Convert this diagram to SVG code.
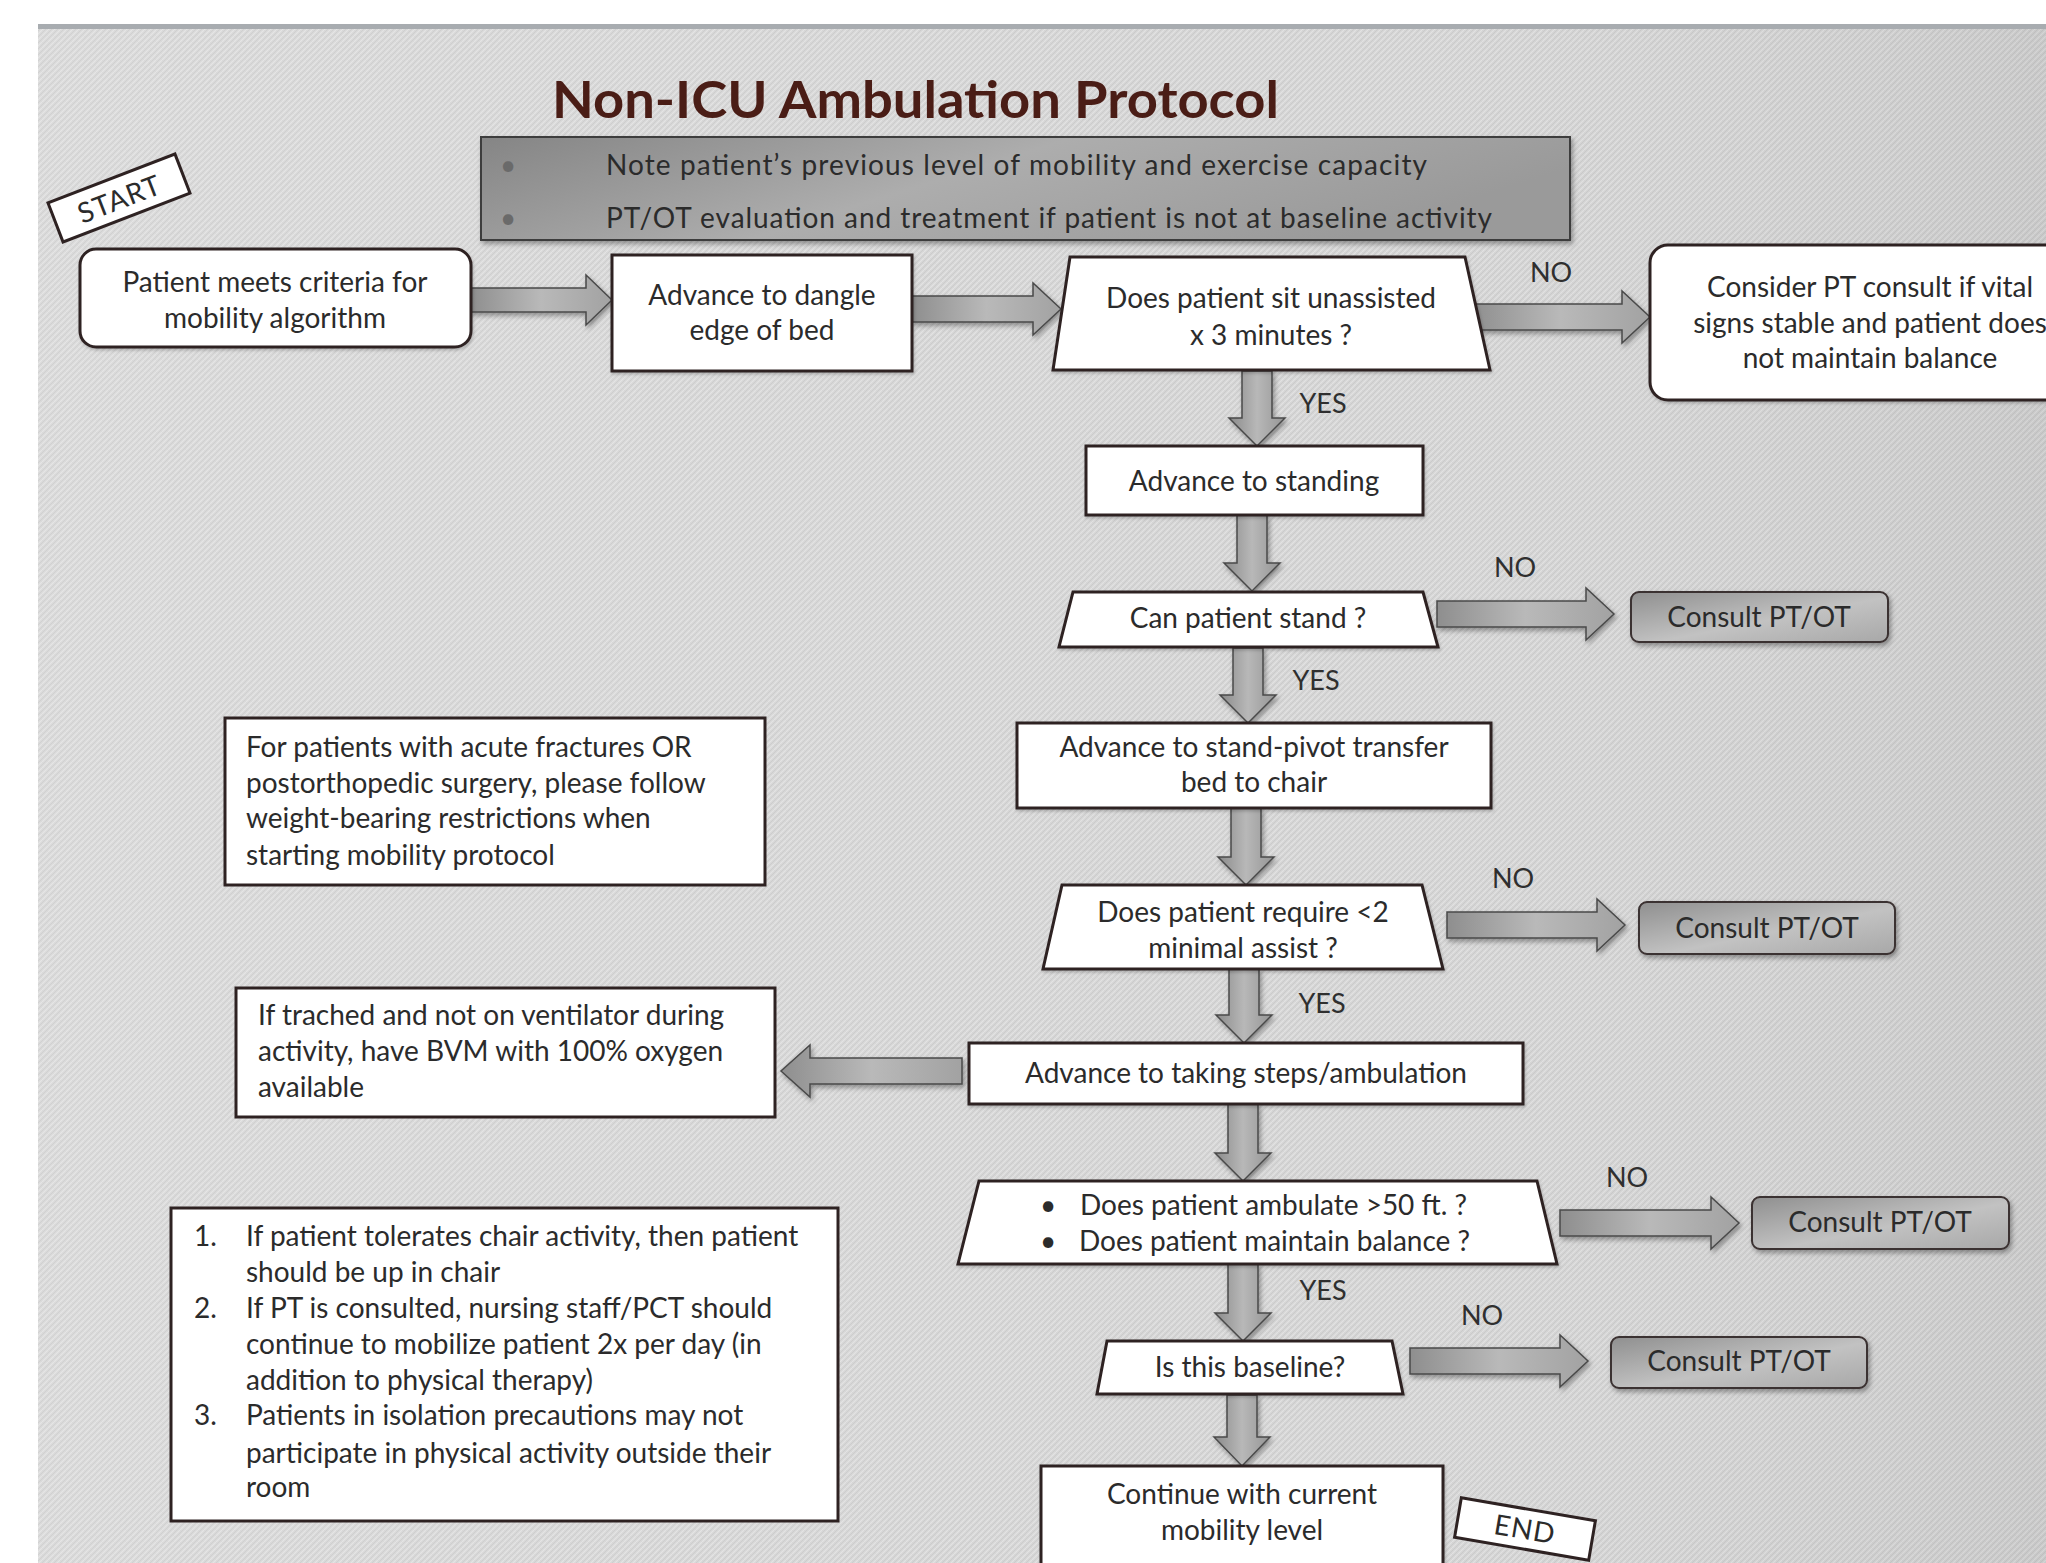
<svg xmlns="http://www.w3.org/2000/svg" width="2046" height="1563" viewBox="0 0 2046 1563">
<defs>
<pattern id="tex" width="6" height="6" patternUnits="userSpaceOnUse">
<rect width="6" height="6" fill="#d5d5d5"/>
<path d="M0 6 L6 0" stroke="#e3e3e3" stroke-width="1.1"/>
<path d="M0 3 L3 0 M3 6 L6 3" stroke="#c7c7c7" stroke-width="0.7"/>
</pattern>
<linearGradient id="shade" x1="0" y1="0" x2="1" y2="0">
<stop offset="0" stop-color="#ffffff" stop-opacity="0.12"/>
<stop offset="0.6" stop-color="#ffffff" stop-opacity="0"/>
<stop offset="1" stop-color="#000000" stop-opacity="0.06"/>
</linearGradient>
<linearGradient id="hArrow" x1="0" y1="0" x2="1" y2="0">
<stop offset="0" stop-color="#8e8e8e"/>
<stop offset="0.5" stop-color="#b9b9b9"/>
<stop offset="1" stop-color="#a2a2a2"/>
</linearGradient>
<linearGradient id="vArrow" x1="0" y1="0" x2="1" y2="0">
<stop offset="0" stop-color="#8a8a8a"/>
<stop offset="0.5" stop-color="#b8b8b8"/>
<stop offset="1" stop-color="#959595"/>
</linearGradient>
<linearGradient id="consult" x1="0" y1="0" x2="1" y2="1">
<stop offset="0" stop-color="#8f8f8f"/>
<stop offset="0.55" stop-color="#c2c2c2"/>
<stop offset="1" stop-color="#a8a8a8"/>
</linearGradient>
<linearGradient id="info" x1="0" y1="0" x2="1" y2="0.3">
<stop offset="0" stop-color="#858585"/>
<stop offset="0.5" stop-color="#adadad"/>
<stop offset="1" stop-color="#9a9a9a"/>
</linearGradient>
<filter id="sh" x="-10%" y="-20%" width="130%" height="150%">
<feDropShadow dx="2" dy="3" stdDeviation="2.5" flood-color="#000" flood-opacity="0.35"/>
</filter>
<filter id="shs" x="-10%" y="-20%" width="130%" height="150%">
<feDropShadow dx="1" dy="2" stdDeviation="1.5" flood-color="#000" flood-opacity="0.2"/>
</filter>
<style>
.t{font-family:Lato,"Open Sans","Liberation Sans",sans-serif;font-size:28px;fill:#2b2b2b}
.c{text-anchor:middle}
.lbl{font-family:Lato,"Open Sans","Liberation Sans",sans-serif;font-size:27px;fill:#2f2f2f;text-anchor:middle}
.box{fill:#ffffff;stroke:#2e2222;stroke-width:3}
.cons{fill:url(#consult);stroke:#3a3030;stroke-width:2}
.ha{fill:url(#hArrow);stroke:#4a4a4a;stroke-width:1.5}
.va{fill:url(#vArrow);stroke:#4a4a4a;stroke-width:1.5}
</style>
</defs>

<rect x="0" y="0" width="2046" height="1563" fill="#ffffff"/>
<rect x="38" y="27" width="2008" height="1536" fill="url(#tex)"/>
<rect x="38" y="27" width="2008" height="1536" fill="url(#shade)"/>
<rect x="38" y="24" width="2008" height="5" fill="#a8acb0"/>

<text x="552" y="118" font-family="Lato,'Open Sans',sans-serif" font-weight="700" font-size="52" fill="#4a1d16" textLength="727" lengthAdjust="spacingAndGlyphs">Non-ICU Ambulation Protocol</text>

<g id="info">
<rect x="481" y="137" width="1089" height="103" fill="url(#info)" stroke="#3c3c3c" stroke-width="2" filter="url(#sh)"/>
<text class="t" x="500" y="175" fill="#666" style="fill:#6a6a6a">•</text>
<text class="t" x="500" y="228" style="fill:#6a6a6a">•</text>
<text class="t" x="606" y="175" textLength="821">Note patient’s  previous  level  of mobility  and  exercise  capacity</text>
<text class="t" x="606" y="228" textLength="886">PT/OT evaluation  and treatment  if patient  is not at baseline  activity</text>
</g>

<g id="connectors">
<path class="ha" filter="url(#sh)" d="M470 288 L586 288 L586 275 L612 300 L586 325 L586 312 L470 312 Z"/>
<path class="ha" filter="url(#sh)" d="M912 296 L1033 296 L1033 283 L1061 309 L1033 335 L1033 322 L912 322 Z"/>
<path class="ha" filter="url(#sh)" d="M1471 304 L1622 304 L1622 291 L1650 317 L1622 343 L1622 330 L1471 330 Z"/>
<path class="ha" filter="url(#sh)" d="M1437 601 L1586 601 L1586 588 L1614 614 L1586 640 L1586 627 L1437 627 Z"/>
<path class="ha" filter="url(#sh)" d="M1447 912 L1597 912 L1597 899 L1625 925 L1597 951 L1597 938 L1447 938 Z"/>
<path class="ha" filter="url(#sh)" d="M1560 1210 L1711 1210 L1711 1197 L1739 1223 L1711 1249 L1711 1236 L1560 1236 Z"/>
<path class="ha" filter="url(#sh)" d="M1410 1348 L1560 1348 L1560 1335 L1588 1361 L1560 1387 L1560 1374 L1410 1374 Z"/>
<path class="ha" filter="url(#sh)" d="M962 1058 L810 1058 L810 1045 L781 1071 L810 1097 L810 1084 L962 1084 Z"/>
<path class="va" filter="url(#sh)" d="M1242 371 L1272 371 L1272 418 L1285 418 L1257 446 L1229 418 L1242 418 Z"/>
<path class="va" filter="url(#sh)" d="M1237 515 L1267 515 L1267 563 L1280 563 L1252 591 L1224 563 L1237 563 Z"/>
<path class="va" filter="url(#sh)" d="M1233 648 L1263 648 L1263 695 L1276 695 L1248 723 L1220 695 L1233 695 Z"/>
<path class="va" filter="url(#sh)" d="M1231 808 L1261 808 L1261 857 L1274 857 L1246 885 L1218 857 L1231 857 Z"/>
<path class="va" filter="url(#sh)" d="M1229 969 L1259 969 L1259 1015 L1272 1015 L1244 1043 L1216 1015 L1229 1015 Z"/>
<path class="va" filter="url(#sh)" d="M1228 1104 L1258 1104 L1258 1153 L1271 1153 L1243 1181 L1215 1153 L1228 1153 Z"/>
<path class="va" filter="url(#sh)" d="M1228 1264 L1258 1264 L1258 1313 L1271 1313 L1243 1341 L1215 1313 L1228 1313 Z"/>
<path class="va" filter="url(#sh)" d="M1227 1395 L1257 1395 L1257 1437 L1270 1437 L1242 1466 L1214 1437 L1227 1437 Z"/>
<text class="lbl" x="1551" y="282">NO</text>
<text class="lbl" x="1323" y="413">YES</text>
<text class="lbl" x="1515" y="577">NO</text>
<text class="lbl" x="1316" y="690">YES</text>
<text class="lbl" x="1513" y="888">NO</text>
<text class="lbl" x="1322" y="1013">YES</text>
<text class="lbl" x="1627" y="1187">NO</text>
<text class="lbl" x="1323" y="1300">YES</text>
<text class="lbl" x="1482" y="1325">NO</text>
</g>

<g id="start" transform="translate(119 198) rotate(-21)">
<rect x="-68" y="-21" width="136" height="42" class="box"/>
<text class="t c" x="0" y="11" font-size="30" letter-spacing="1">START</text>
</g>

<g id="n1">
<rect x="80" y="249" width="391" height="98" rx="16" class="box" filter="url(#shs)"/>
<text class="t c" x="275" y="292">Patient meets criteria for</text>
<text class="t c" x="275" y="328">mobility algorithm</text>
</g>

<g id="n2">
<rect x="612" y="255" width="300" height="116" class="box" filter="url(#shs)"/>
<text class="t c" x="762" y="305">Advance to dangle</text>
<text class="t c" x="762" y="340">edge of bed</text>
</g>

<g id="n3">
<path d="M1070 257 L1465 257 L1490 370 L1053 370 Z" class="box" filter="url(#shs)"/>
<text class="t c" x="1271" y="308">Does patient sit unassisted</text>
<text class="t c" x="1271" y="345">x 3 minutes ?</text>
</g>

<g id="n4">
<rect x="1650" y="245" width="420" height="155" rx="18" class="box" filter="url(#shs)"/>
<text class="t c" x="1870" y="297">Consider PT consult if vital</text>
<text class="t c" x="1870" y="333">signs stable and patient does</text>
<text class="t c" x="1870" y="368">not maintain balance</text>
</g>

<g id="n5">
<rect x="1086" y="446" width="337" height="69" class="box" filter="url(#shs)"/>
<text class="t c" x="1254" y="491">Advance to standing</text>
</g>

<g id="n6">
<path d="M1073 592 L1423 592 L1438 647 L1059 647 Z" class="box" filter="url(#shs)"/>
<text class="t c" x="1248" y="628">Can patient stand ?</text>
</g>

<g id="c1">
<rect x="1631" y="592" width="257" height="50" rx="8" class="cons" filter="url(#sh)"/>
<text class="t c" x="1759" y="627">Consult PT/OT</text>
</g>

<g id="n7">
<rect x="1017" y="723" width="474" height="85" class="box" filter="url(#shs)"/>
<text class="t c" x="1254" y="757">Advance to stand-pivot transfer</text>
<text class="t c" x="1254" y="792">bed to chair</text>
</g>

<g id="note1">
<rect x="225" y="718" width="540" height="167" class="box"/>
<text class="t" x="246" y="757">For patients with acute fractures OR</text>
<text class="t" x="246" y="793">postorthopedic  surgery, please follow</text>
<text class="t" x="246" y="828">weight-bearing restrictions when</text>
<text class="t" x="246" y="865">starting mobility  protocol</text>
</g>

<g id="n8">
<path d="M1062 885 L1422 885 L1443 969 L1043 969 Z" class="box" filter="url(#shs)"/>
<text class="t c" x="1243" y="922">Does patient require &lt;2</text>
<text class="t c" x="1243" y="958">minimal assist ?</text>
</g>

<g id="c2">
<rect x="1639" y="902" width="256" height="52" rx="8" class="cons" filter="url(#sh)"/>
<text class="t c" x="1767" y="938">Consult PT/OT</text>
</g>

<g id="note2">
<rect x="236" y="988" width="539" height="129" class="box"/>
<text class="t" x="258" y="1025">If trached and not on ventilator during</text>
<text class="t" x="258" y="1061">activity, have BVM with 100% oxygen</text>
<text class="t" x="258" y="1097">available</text>
</g>

<g id="n9">
<rect x="969" y="1043" width="554" height="61" class="box" filter="url(#shs)"/>
<text class="t c" x="1246" y="1083">Advance to taking steps/ambulation</text>
</g>

<g id="n10">
<path d="M979 1181 L1537 1181 L1557 1264 L958 1264 Z" class="box" filter="url(#shs)"/>
<text class="t" x="1040" y="1215">•</text>
<text class="t" x="1040" y="1251">•</text>
<text class="t" x="1080" y="1215">Does patient ambulate &gt;50 ft. ?</text>
<text class="t" x="1079" y="1251">Does patient maintain balance ?</text>
</g>

<g id="c3">
<rect x="1752" y="1197" width="257" height="52" rx="8" class="cons" filter="url(#sh)"/>
<text class="t c" x="1880" y="1232">Consult PT/OT</text>
</g>

<g id="note3">
<rect x="171" y="1208" width="667" height="313" class="box"/>
<text class="t" x="194" y="1246" font-size="24">1.</text>
<text class="t" x="246" y="1246">If patient tolerates chair activity, then patient</text>
<text class="t" x="246" y="1282">should be up in chair</text>
<text class="t" x="194" y="1318" font-size="24">2.</text>
<text class="t" x="246" y="1318">If PT is consulted, nursing staff/PCT should</text>
<text class="t" x="246" y="1354">continue to mobilize patient 2x per day (in</text>
<text class="t" x="246" y="1390">addition to physical therapy)</text>
<text class="t" x="194" y="1425" font-size="24">3.</text>
<text class="t" x="246" y="1425">Patients in isolation  precautions may not</text>
<text class="t" x="246" y="1463">participate  in physical activity outside their</text>
<text class="t" x="246" y="1497">room</text>
</g>

<g id="n11">
<path d="M1107 1341 L1392 1341 L1403 1394 L1097 1394 Z" class="box" filter="url(#shs)"/>
<text class="t c" x="1250" y="1377">Is this baseline?</text>
</g>

<g id="c4">
<rect x="1611" y="1337" width="256" height="51" rx="8" class="cons" filter="url(#sh)"/>
<text class="t c" x="1739" y="1371">Consult PT/OT</text>
</g>

<g id="n12">
<rect x="1041" y="1466" width="402" height="104" class="box" filter="url(#shs)"/>
<text class="t c" x="1242" y="1504">Continue with current</text>
<text class="t c" x="1242" y="1540">mobility  level</text>
</g>

<g id="end" transform="translate(1525 1529) rotate(9.7)">
<rect x="-68" y="-20" width="136" height="40" class="box"/>
<text class="t c" x="0" y="10" font-size="28" letter-spacing="1">END</text>
</g>
</svg>
